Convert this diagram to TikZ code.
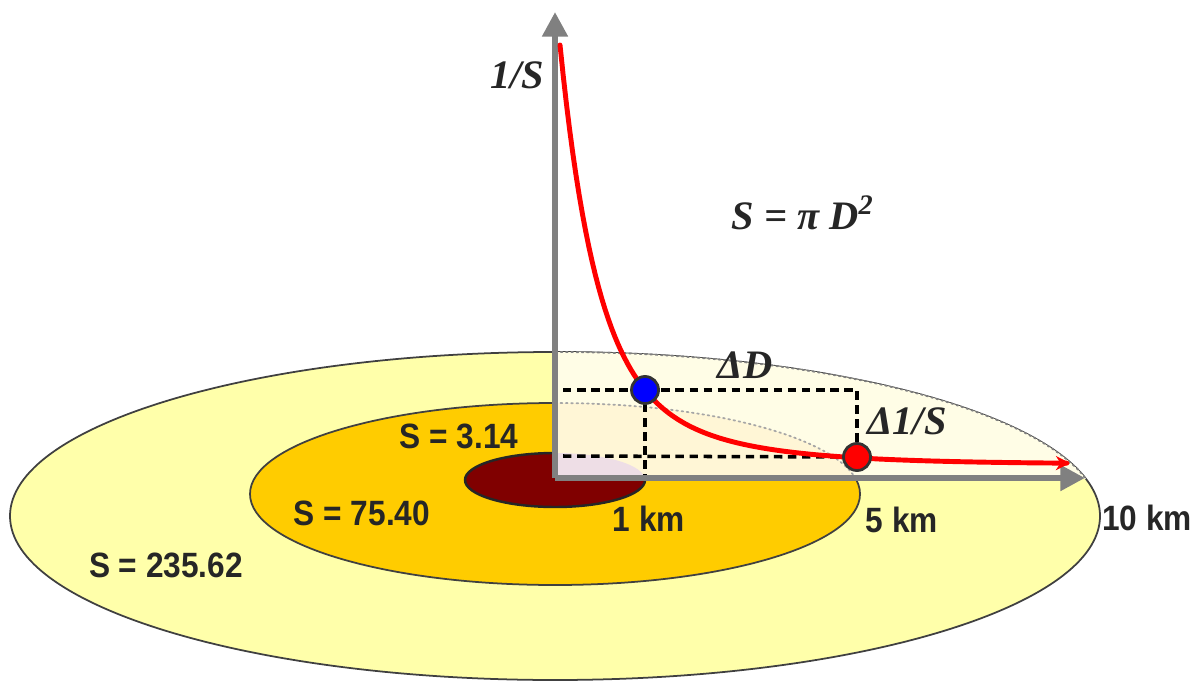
\documentclass[tikz,border=0pt]{standalone}
\usepackage{fontspec}
\setmainfont{Liberation Serif}
\newfontfamily\kmfont[FakeStretch=0.9]{Liberation Sans}
\usetikzlibrary{arrows.meta}

\definecolor{ringout}{RGB}{255,255,170}
\definecolor{ringmid}{RGB}{255,204,0}
\definecolor{ringin}{RGB}{128,0,0}
\definecolor{paleout}{RGB}{255,253,230}
\definecolor{palemid}{RGB}{255,246,214}
\definecolor{palein}{RGB}{238,222,230}
\definecolor{axisgray}{RGB}{128,128,128}

\begin{document}
\begin{tikzpicture}[
  line cap=round,
  line join=round,
  axis/.style={line width=1.7pt, draw=axisgray, line cap=butt,
    -{Triangle[width=7pt,length=7pt]}},
  guide/.style={line width=1pt, line cap=butt, dash pattern=on 2.4pt off 1.6pt},
  curve/.style={line width=1.4pt, draw=red, -{Stealth[length=4pt,width=4pt]}},
  dot/.style={circle, draw=black!80, line width=0.8pt, minimum size=0.27cm, inner sep=0pt},
  ringlabel/.style={font=\kmfont\bfseries\fontsize{10}{12}\selectfont, text=black!85},
  formula/.style={font=\bfseries\itshape\fontsize{11.5}{13}\selectfont, text=black!85}
]
  \useasboundingbox (0,0) rectangle (11.93,6.81);

  \coordinate (O) at (5.55,2.03);
  \coordinate (Ytop) at (5.55,6.69);
  \coordinate (Xend) at (10.85,2.03);
  \coordinate (C1) at (5.55,1.65);
  \coordinate (C2) at (5.55,1.87);
  \coordinate (C3) at (5.55,2.01);
  \coordinate (b) at (6.45,2.91);
  \coordinate (r) at (8.57,2.24);

  % Кольца
  \filldraw[fill=ringout, draw=black!75, line width=0.5pt] (C1) ellipse [x radius=5.45, y radius=1.64];
  \filldraw[fill=ringmid, draw=black!75, line width=0.5pt] (C2) ellipse [x radius=3.05, y radius=0.91];
  \filldraw[fill=ringin, draw=black!85, line width=0.7pt] (C3) ellipse [x radius=0.90, y radius=0.27];

  % Светлая четверть
  \begin{scope}
    \clip (O) rectangle (11.93,6.81);
    \fill[paleout] (C1) ellipse [x radius=5.45, y radius=1.64];
    \fill[palemid] (C2) ellipse [x radius=3.05, y radius=0.91];
    \fill[palein] (C3) ellipse [x radius=0.90, y radius=0.27];
    \draw[axisgray, densely dotted, line width=0.5pt] (C1) ellipse [x radius=5.45, y radius=1.64];
    \draw[axisgray!70, densely dotted, line width=0.5pt] (C2) ellipse [x radius=3.05, y radius=0.91];
  \end{scope}

  % Пунктир
  \draw[guide] (5.63,2.91) -- (b) -- (8.57,2.91) -- (r);
  \draw[guide] (5.63,2.25) -- (r);
  \draw[guide] (b) -- (6.45,2.03);

  % Оси
  \draw[axis] (O) -- (Ytop);
  \draw[axis] (O) -- (Xend);

  % Кривая 1/S
  \draw[curve] plot[domain=5.6:10.7, samples=160]
    (\x, {2.17 + 3.16*exp(-2.85*(\x-5.6)) + 1.03*exp(-0.95*(\x-5.6))});

  \node[dot, fill=blue] (bdot) at (b) {};
  \node[dot, fill=red] (rdot) at (r) {};

  % Подписи
  \node[formula] (invs) at (5.17,6.06) {1/S};
  \node[formula] (area) at (8.03,4.68) {S = π D\textsuperscript{2}};
  \node[formula] (dd) at (7.45,3.16) {ΔD};
  \node[formula] (dinv) at (9.07,2.60) {Δ1/S};

  \node[ringlabel] (s1) at (4.59,2.45) {S = 3.14};
  \node[ringlabel] (s2) at (3.62,1.68) {S = 75.40};
  \node[ringlabel] (s3) at (1.66,1.16) {S = 235.62};
  \node[ringlabel] (k1) at (6.49,1.62) {1 km};
  \node[ringlabel] (k5) at (9.02,1.61) {5 km};
  \node[ringlabel] (k10) at (11.47,1.63) {10 km};
\end{tikzpicture}
\end{document}
